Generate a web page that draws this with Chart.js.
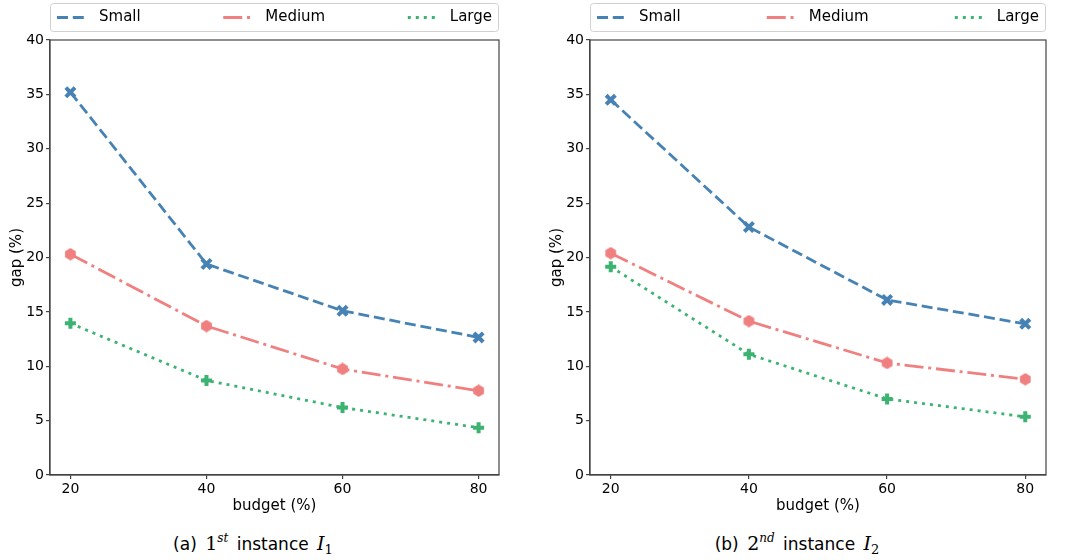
<!DOCTYPE html>
<html>
<head>
<meta charset="utf-8">
<script src="https://cdn.jsdelivr.net/npm/chart.js@4.4.1/dist/chart.umd.min.js"></script>
<style>
  html, body { margin: 0; padding: 0; background: #fff; }
  #page { position: relative; width: 1072px; height: 560px; overflow: hidden; }
  .panel { position: absolute; top: 0; }
  .caption {
    position: absolute; top: 531px; width: 400px; text-align: center;
    font-family: "DejaVu Sans", sans-serif; font-size: 17px; color: #000; line-height: 24px;
    white-space: nowrap; word-spacing: 3px;
  }
  .caption .m { font-family: "DejaVu Serif", "Liberation Serif", serif; font-size: 19px; }
  .caption sup { font-size: 12px; font-style: italic; vertical-align: 8px; line-height: 0; }
  .caption sub { font-size: 13px; font-style: normal; vertical-align: -4px; line-height: 0; }
</style>
</head>
<body>
<div id="page">
  <div class="panel" style="left:0px"><canvas id="chart1" width="536" height="520"></canvas></div>
  <div class="panel" style="left:536px"><canvas id="chart2" width="536" height="520"></canvas></div>
  <div class="caption" style="left:53px">(a) <span class="m">1<sup>st</sup></span> instance <span class="m"><i>I</i><sub>1</sub></span></div>
  <div class="caption" style="left:597px">(b) <span class="m">2<sup>nd</sup></span> instance <span class="m"><i>I</i><sub>2</sub></span></div>
</div>

<script>
// budget levels on the x axis
var budgets = [20, 40, 60, 80];
var yTicks = [0, 5, 10, 15, 20, 25, 30, 35, 40];
var seriesNames = ['Small', 'Medium', 'Large'];

// (a) 1st instance
var small1 = [35.2, 19.4, 15.1, 12.65];
var medium1 = [20.3, 13.7, 9.75, 7.75];
var large1 = [13.95, 8.7, 6.2, 4.35];

// (b) 2nd instance
var small2 = [34.5, 22.8, 16.1, 13.9];
var medium2 = [20.4, 14.15, 10.3, 8.8];
var large2 = [19.15, 11.1, 7.0, 5.35];

var colors = ['#4682B4', '#F08080', '#3CB371'];
var dashes = [[11, 4.8], [19, 4.8, 3, 4.8], [3, 5]];

// hexagon marker (no built-in one in Chart.js)
function hexMarker(color) {
  var c = document.createElement('canvas');
  c.width = 13; c.height = 13;
  var g = c.getContext('2d');
  g.fillStyle = color;
  g.beginPath();
  for (var i = 0; i < 6; i++) {
    var a = Math.PI / 2 + i * Math.PI / 3;
    var px = 6.5 + 6.2 * Math.cos(a), py = 6.5 - 6.2 * Math.sin(a);
    if (i === 0) g.moveTo(px, py); else g.lineTo(px, py);
  }
  g.closePath();
  g.fill();
  return c;
}

var markers = [
  {pointStyle: 'crossRot', pointRadius: 6.5, pointBorderWidth: 4},
  {pointStyle: hexMarker(colors[1]), pointRadius: 6, pointBorderWidth: 0},
  {pointStyle: 'cross', pointRadius: 5.5, pointBorderWidth: 4}
];

// box around the plot area, like matplotlib spines
var framePlugin = {
  id: 'frame',
  afterDraw: function(chart) {
    var a = chart.chartArea, ctx = chart.ctx;
    ctx.save();
    ctx.strokeStyle = '#444';
    ctx.lineWidth = 1.2;
    ctx.strokeRect(a.left, a.top, a.right - a.left, a.bottom - a.top);
    ctx.restore();
  }
};

// expanded legend above the plot
var legendPlugin = {
  id: 'boxLegend',
  afterDraw: function(chart) {
    var a = chart.chartArea, ctx = chart.ctx;
    var top = 3, h = 28, left = a.left, w = a.right - a.left;
    ctx.save();
    ctx.beginPath();
    ctx.roundRect(left + 0.5, top + 0.5, w - 1, h, 3);
    ctx.fillStyle = 'rgba(255,255,255,0.8)';
    ctx.fill();
    ctx.strokeStyle = '#d0d0d0';
    ctx.lineWidth = 1;
    ctx.stroke();

    ctx.font = '15px "DejaVu Sans"';
    ctx.textBaseline = 'middle';
    var handle = 30, pad = 12, inner = 7;
    var widths = chart.data.datasets.map(function(ds) {
      return handle + pad + ctx.measureText(ds.label).width;
    });
    var total = widths.reduce(function(s, v) { return s + v; }, 0);
    var gap = (w - 2 * inner - total) / (widths.length - 1);
    var x = left + inner, cy = top + h / 2 + 0.5;
    chart.data.datasets.forEach(function(ds, i) {
      ctx.strokeStyle = ds.borderColor;
      ctx.lineWidth = ds.borderWidth;
      ctx.setLineDash(ds.borderDash);
      ctx.beginPath();
      ctx.moveTo(x, cy);
      ctx.lineTo(x + handle, cy);
      ctx.stroke();
      ctx.setLineDash([]);
      ctx.fillStyle = '#000';
      ctx.fillText(ds.label, x + handle + pad, cy);
      x += widths[i] + gap;
    });
    ctx.restore();
  }
};

function makeChart(id, values, axisWidth, padRight, titlePad) {
  var datasets = values.map(function(vals, i) {
    return Object.assign({
      label: seriesNames[i],
      data: budgets.map(function(b, j) { return {x: b, y: vals[j]}; }),
      borderColor: colors[i],
      backgroundColor: colors[i],
      pointBackgroundColor: colors[i],
      pointBorderColor: colors[i],
      borderWidth: 2.8,
      borderDash: dashes[i],
      fill: false,
      tension: 0
    }, markers[i]);
  });

  return new Chart(document.getElementById(id), {
    type: 'line',
    data: {datasets: datasets},
    plugins: [framePlugin, legendPlugin],
    options: {
      responsive: false,
      animation: false,
      devicePixelRatio: 1,
      layout: {padding: {top: 40, right: padRight, left: 0, bottom: 0}},
      plugins: {legend: {display: false}, tooltip: {enabled: false}},
      scales: {
        x: {
          type: 'linear',
          min: 17,
          max: 83,
          afterBuildTicks: function(scale) {
            scale.ticks = budgets.map(function(v) { return {value: v}; });
          },
          afterFit: function(scale) { scale.height = 45; },
          grid: {drawOnChartArea: false, tickLength: 4, color: '#444', lineWidth: 1.2},
          border: {display: true, color: '#444', width: 1.2},
          ticks: {font: {family: 'DejaVu Sans', size: 14}, color: '#000', padding: 2},
          title: {display: true, text: 'budget (%)', color: '#000',
                  font: {family: 'DejaVu Sans', size: 15}, padding: {top: 0, bottom: 5}}
        },
        y: {
          min: 0,
          max: 40,
          afterBuildTicks: function(scale) {
            scale.ticks = yTicks.map(function(v) { return {value: v}; });
          },
          afterFit: function(scale) { scale.width = axisWidth; },
          grid: {drawOnChartArea: false, tickLength: 4, color: '#444', lineWidth: 1.2},
          border: {display: true, color: '#444', width: 1.2},
          ticks: {font: {family: 'DejaVu Sans', size: 14}, color: '#000', padding: 2},
          title: {display: true, text: 'gap (%)', color: '#000',
                  font: {family: 'DejaVu Sans', size: 15}, padding: {top: titlePad, bottom: 0}}
        }
      }
    }
  });
}

makeChart('chart1', [small1, medium1, large1], 50, 37, 8);
makeChart('chart2', [small2, medium2, large2], 54, 26, 12);
</script>
</body>
</html>
